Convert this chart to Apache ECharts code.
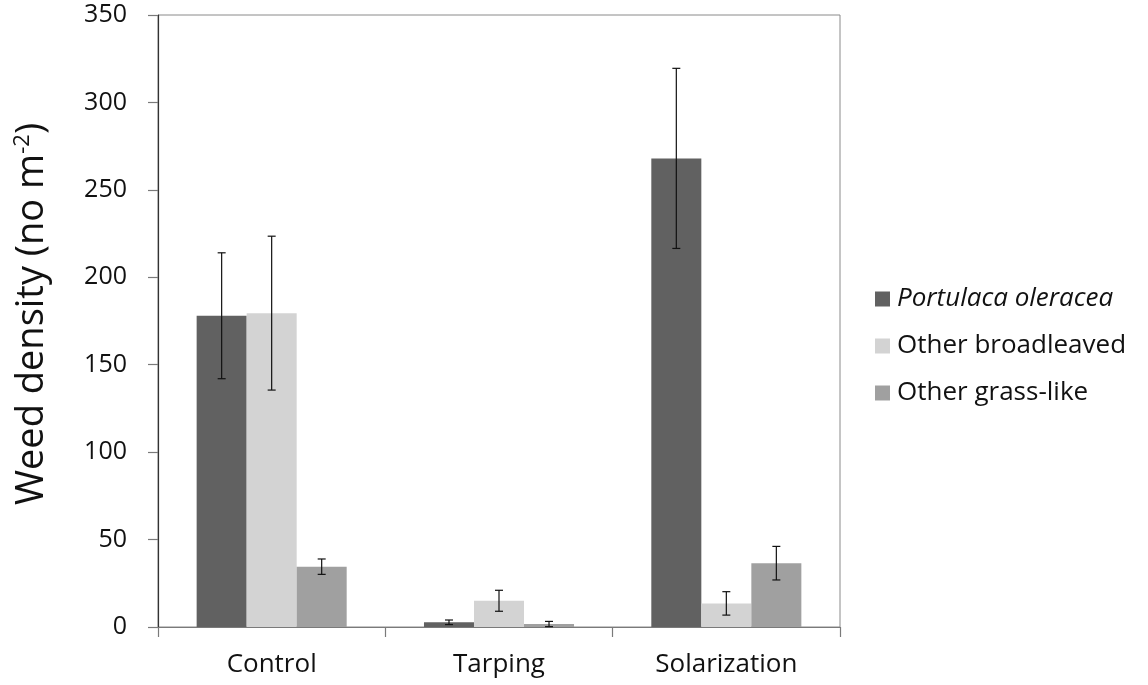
<!DOCTYPE html>
<html>
<head>
<meta charset="utf-8">
<script src="https://cdn.jsdelivr.net/npm/echarts@6/dist/echarts.min.js"></script>
<style>
  html, body { margin: 0; padding: 0; background: #fff; }
  #chart { width: 1148px; height: 685px; }
</style>
</head>
<body>
<div id="chart"></div>
<script>
// Weed density by soil treatment, mean ± error
const categories = ['Control', 'Tarping', 'Solarization'];
const seriesNames = ['Portulaca oleracea', 'Other broadleaved', 'Other grass-like'];
const portulaca = [178, 2.7, 268];
const broadleaved = [179.5, 15, 13.5];
const grassLike = [34.5, 1.7, 36.5];
const portulacaErr = [36, 1.3, 51.5];
const broadleavedErr = [44, 6, 6.7];
const grassLikeErr = [4.4, 1.5, 9.6];
const yTicks = [0, 50, 100, 150, 200, 250, 300, 350];

const colors = ['#616161', '#d3d3d3', '#a0a0a0'];
const FONT = 'Open Sans';
const BAR_FRAC = 0.22;

const means = [portulaca, broadleaved, grassLike];
const errs = [portulacaErr, broadleavedErr, grassLikeErr];

const barSeries = means.map((vals, i) => ({
  name: seriesNames[i],
  type: 'bar',
  data: vals,
  barWidth: (BAR_FRAC * 100) + '%',
  barGap: '0%',
  itemStyle: { color: colors[i] },
  z: 2
}));

// error bars drawn as custom marks, offset to each bar's centre
const errSeries = means.map((vals, i) => ({
  type: 'custom',
  name: seriesNames[i] + ' err',
  data: vals.map((v, k) => [k, v - errs[i][k], v + errs[i][k]]),
  z: 5,
  renderItem: function (params, api) {
    const cat = api.value(0);
    const lo = api.coord([cat, api.value(1)]);
    const hi = api.coord([cat, api.value(2)]);
    const catW = api.size([1, 0])[0];
    const x = lo[0] + (i - 1) * BAR_FRAC * catW;
    const cap = 4;
    const style = { stroke: '#111', lineWidth: 1.2 };
    return {
      type: 'group',
      children: [
        { type: 'line', shape: { x1: x, y1: lo[1], x2: x, y2: hi[1] }, style },
        { type: 'line', shape: { x1: x - cap, y1: lo[1], x2: x + cap, y2: lo[1] }, style },
        { type: 'line', shape: { x1: x - cap, y1: hi[1], x2: x + cap, y2: hi[1] }, style }
      ]
    };
  }
}));

const chart = echarts.init(document.getElementById('chart'), null, { renderer: 'canvas' });
chart.setOption({
  animation: false,
  backgroundColor: '#fff',
  textStyle: { fontFamily: FONT },
  grid: {
    left: 158, right: 308, top: 15, bottom: 58,
    show: true, borderColor: '#8a8a8a', borderWidth: 1
  },
  legend: {
    orient: 'vertical',
    left: 870,
    top: 281,
    itemWidth: 15,
    itemHeight: 15,
    itemGap: 21,
    icon: 'rect',
    textStyle: { fontFamily: FONT, fontSize: 26, color: '#111', padding: [0, 0, 0, 2] },
    data: [
      { name: seriesNames[0], textStyle: { fontStyle: 'italic' } },
      { name: seriesNames[1] },
      { name: seriesNames[2] }
    ]
  },
  xAxis: {
    type: 'category',
    data: categories,
    boundaryGap: true,
    axisLine: { lineStyle: { color: '#7a7a7a', width: 1.2 } },
    axisTick: { show: true, length: 10, inside: false, lineStyle: { color: '#7a7a7a', width: 1.2 } },
    axisLabel: { fontFamily: FONT, fontSize: 26, color: '#111', margin: 25 }
  },
  yAxis: {
    type: 'value',
    min: yTicks[0],
    max: yTicks[yTicks.length - 1],
    interval: yTicks[1] - yTicks[0],
    splitLine: { show: false },
    axisLine: { show: true, lineStyle: { color: '#333', width: 1.2 } },
    axisTick: { show: true, length: 10, inside: false, lineStyle: { color: '#7a7a7a', width: 1.2 } },
    axisLabel: { fontFamily: FONT, fontSize: 25, color: '#111', margin: 31 },
    name: '{t|Weed density (no m}{sup|-2}{t|)}',
    nameLocation: 'middle',
    nameGap: 106,
    nameRotate: 90,
    nameTextStyle: {
      padding: [0, 0, 0, 14],
      rich: {
        t: { fontFamily: FONT, fontSize: 38, color: '#111' },
        sup: { fontFamily: FONT, fontSize: 22, color: '#111', padding: [0, 0, 18, 0] }
      }
    }
  },
  series: barSeries.concat(errSeries)
});
</script>
</body>
</html>
